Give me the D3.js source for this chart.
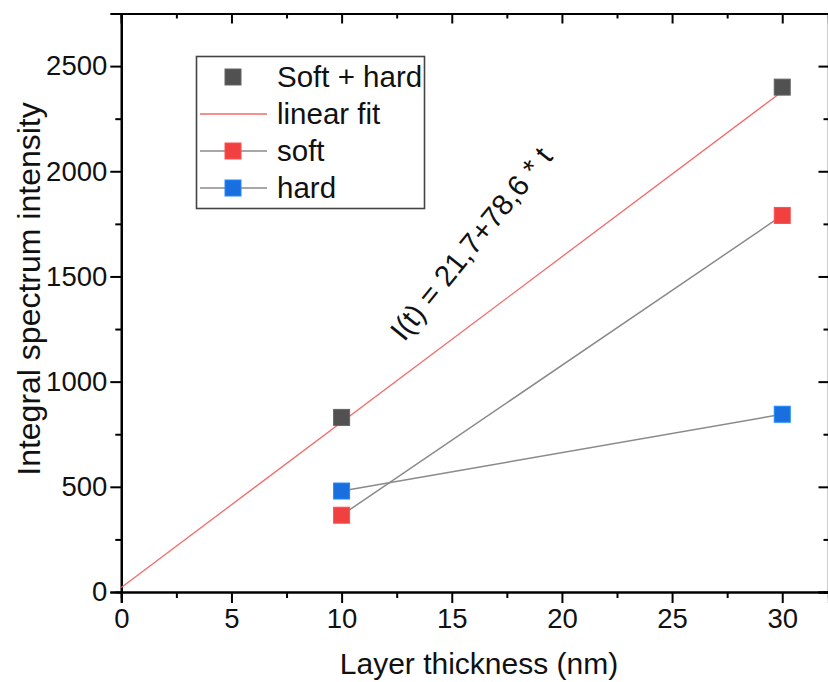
<!DOCTYPE html>
<html>
<head>
<meta charset="utf-8">
<script src="https://cdn.jsdelivr.net/npm/d3@7"></script>
<style>
  html, body { margin: 0; padding: 0; background: #fff; }
  svg { display: block; }
  text { font-family: "Liberation Sans", Arial, sans-serif; fill: #111; }
</style>
</head>
<body>
<svg id="chart" width="828" height="682"></svg>
<script>
// Layer thickness (nm) for each measurement
const thickness = [10, 30];
// Integral spectrum intensity per series
const softHard = [830, 2400];
const soft = [365, 1790];
const hard = [480, 845];
// Linear fit of the summed intensity: I(t) = a + b * t
const fitA = 21.7;
const fitB = 78.6;
const fitRange = [0, 30];
// Axis ticks
const xTicks = [0, 5, 10, 15, 20, 25, 30];
const yTicks = [0, 500, 1000, 1500, 2000, 2500];
const xMinor = [2.5, 7.5, 12.5, 17.5, 22.5, 27.5];
const yMinor = [250, 750, 1250, 1750, 2250];
// Legend
const legendItems = [
  { label: "Soft + hard", color: "#515151", marker: true, line: null },
  { label: "linear fit", color: null, marker: false, line: "#f36b6b" },
  { label: "soft", color: "#f14040", marker: true, line: "#8a8a8a" },
  { label: "hard", color: "#1a6fdf", marker: true, line: "#8a8a8a" }
];

const svg = d3.select("#chart");
const plotL = 121.3, plotR = 828.5, plotT = 13.5, plotB = 592;

const x = d3.scaleLinear().domain([0, 32.1]).range([plotL, plotR]);
const y = d3.scaleLinear().domain([0, 2750]).range([plotB, plotT]);

const FS = 27.5;

// Frame: top and right axes with inward ticks
svg.append("g").attr("transform", `translate(0,${plotT})`)
  .call(d3.axisBottom(x).tickValues(xTicks).tickSize(10).tickFormat(""));
svg.append("g").attr("transform", `translate(0,${plotT})`)
  .call(d3.axisBottom(x).tickValues(xMinor).tickSize(5).tickFormat(""));
svg.append("g").attr("transform", `translate(${plotR},0)`)
  .call(d3.axisLeft(y).tickValues(yTicks).tickSize(10).tickFormat(""));
svg.append("g").attr("transform", `translate(${plotR},0)`)
  .call(d3.axisLeft(y).tickValues(yMinor).tickSize(5).tickFormat(""));

// Bottom axis
svg.append("g").attr("transform", `translate(0,${plotB})`)
  .call(d3.axisBottom(x).tickValues(xTicks).tickSize(11).tickPadding(5).tickFormat(d3.format("d")));
svg.append("g").attr("transform", `translate(0,${plotB})`)
  .call(d3.axisBottom(x).tickValues(xMinor).tickSize(6).tickFormat(""));

// Left axis
svg.append("g").attr("transform", `translate(${plotL},0)`)
  .call(d3.axisLeft(y).tickValues(yTicks).tickSize(11).tickPadding(3).tickFormat(d3.format("d")));
svg.append("g").attr("transform", `translate(${plotL},0)`)
  .call(d3.axisLeft(y).tickValues(yMinor).tickSize(6).tickFormat(""));

svg.selectAll(".domain").attr("stroke", "#000").attr("stroke-width", 2.2);
svg.selectAll(".tick line").attr("stroke", "#000").attr("stroke-width", 2);
svg.selectAll(".tick text")
  .attr("font-size", FS)
  .attr("font-family", "Liberation Sans, Arial, sans-serif")
  .attr("fill", "#111");

// Axis titles
svg.append("text")
  .attr("x", 479)
  .attr("y", 674)
  .attr("text-anchor", "middle")
  .attr("font-size", 30)
  .text("Layer thickness (nm)");

svg.append("text")
  .attr("transform", `translate(40,289) rotate(-90)`)
  .attr("text-anchor", "middle")
  .attr("font-size", 32)
  .text("Integral spectrum intensity");

// Plot content
const plot = svg.append("g");
const lineGen = d3.line().x(d => x(d[0])).y(d => y(d[1]));

// Linear fit
const fitPts = fitRange.map(t => [t, fitA + fitB * t]);
plot.append("path")
  .attr("d", lineGen(fitPts))
  .attr("fill", "none")
  .attr("stroke", "#f36b6b")
  .attr("stroke-width", 1.3);

// Connecting lines for soft and hard
[soft, hard].forEach(vals => {
  plot.append("path")
    .attr("d", lineGen(thickness.map((t, i) => [t, vals[i]])))
    .attr("fill", "none")
    .attr("stroke", "#8a8a8a")
    .attr("stroke-width", 1.5);
});

// Square markers
const MS = 16;
function squares(vals, color) {
  plot.selectAll(null)
    .data(thickness.map((t, i) => [t, vals[i]]))
    .join("rect")
    .attr("x", d => x(d[0]) - MS / 2)
    .attr("y", d => y(d[1]) - MS / 2)
    .attr("width", MS)
    .attr("height", MS)
    .attr("fill", color)
    .attr("stroke", d3.color(color).brighter(0.6))
    .attr("stroke-width", 1);
}
squares(softHard, "#515151");
squares(soft, "#f14040");
squares(hard, "#1a6fdf");

// Fit equation label
svg.append("text")
  .attr("transform", "translate(479,250) rotate(-51)")
  .attr("text-anchor", "middle")
  .attr("font-size", 29.5)
  .text("I(t) = 21,7+78,6 * t");

// Legend
const lg = svg.append("g");
lg.append("rect")
  .attr("x", 196.5).attr("y", 56.5)
  .attr("width", 228).attr("height", 152)
  .attr("fill", "#fff")
  .attr("stroke", "#444")
  .attr("stroke-width", 1.6);

legendItems.forEach((it, i) => {
  const cy = 77 + i * 37;
  if (it.line) {
    lg.append("line")
      .attr("x1", 200).attr("x2", 267)
      .attr("y1", cy).attr("y2", cy)
      .attr("stroke", it.line)
      .attr("stroke-width", it.marker ? 1.5 : 1.6);
  }
  if (it.marker) {
    lg.append("rect")
      .attr("x", 233 - MS / 2).attr("y", cy - MS / 2)
      .attr("width", MS).attr("height", MS)
      .attr("fill", it.color)
      .attr("stroke", d3.color(it.color).brighter(0.6))
      .attr("stroke-width", 1);
  }
  lg.append("text")
    .attr("x", 277).attr("y", cy)
    .attr("dy", "0.35em")
    .attr("font-size", 29.5)
    .text(it.label);
});
</script>
</body>
</html>
